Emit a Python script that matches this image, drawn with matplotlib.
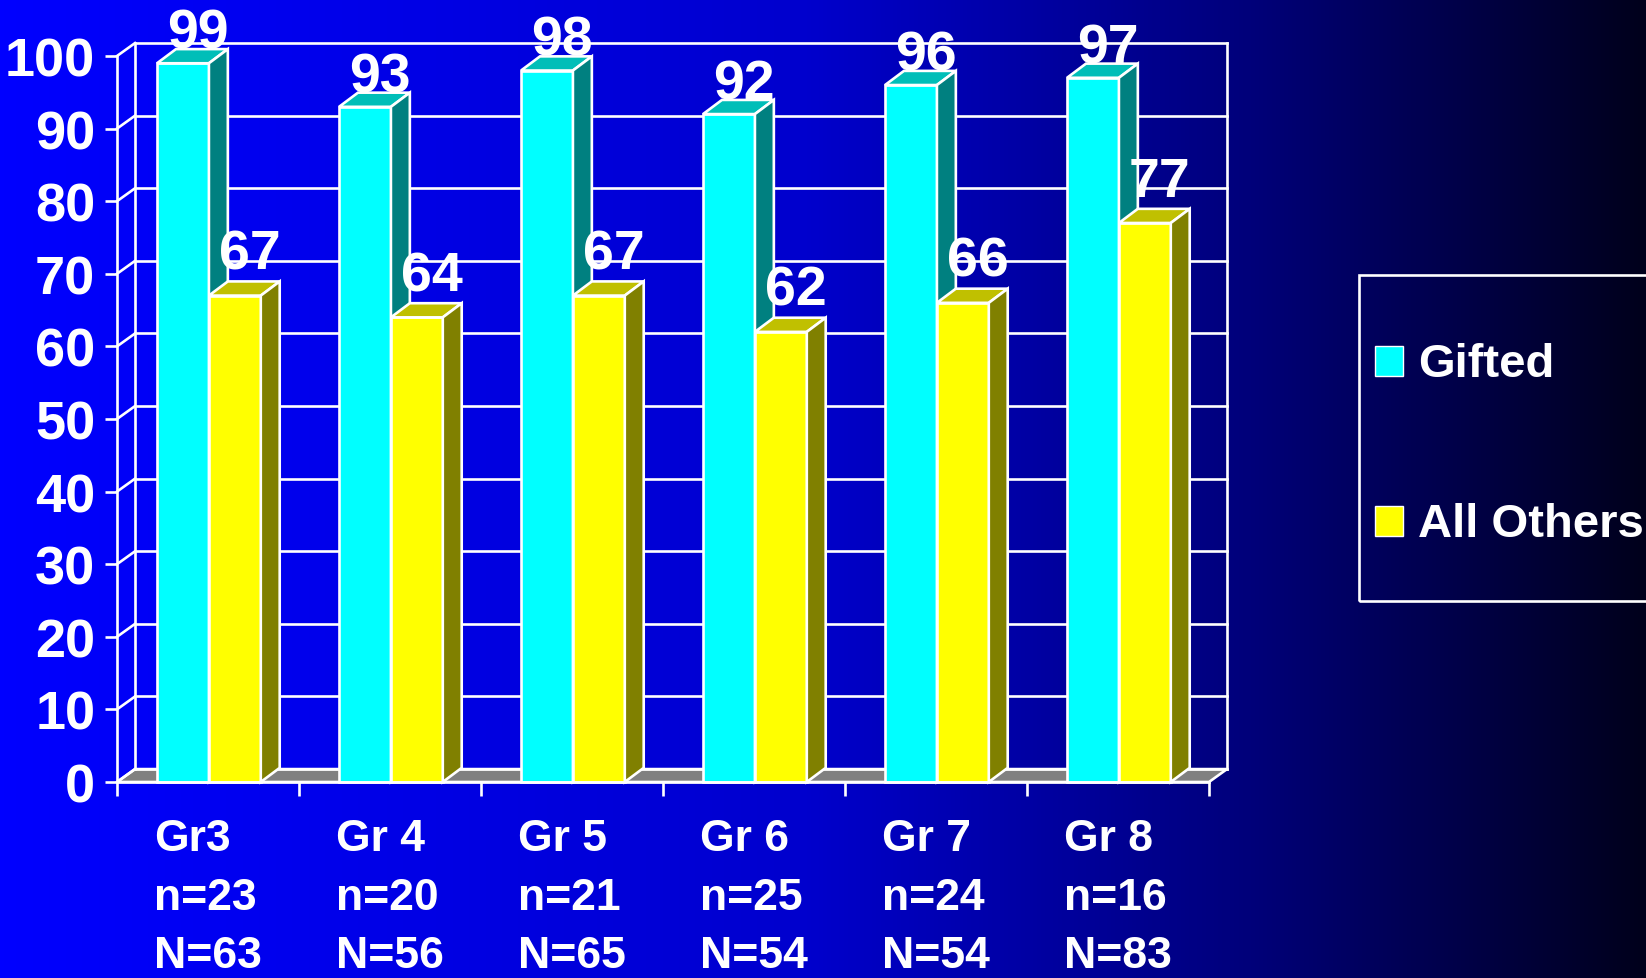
import numpy as np
import matplotlib
matplotlib.use('Agg')
import matplotlib.pyplot as plt
from matplotlib.patches import Polygon, Rectangle

plt.rcParams['font.family'] = ['Liberation Sans', 'DejaVu Sans']
plt.rcParams['font.weight'] = 'bold'

# data
grades = ['Gr3', 'Gr 4', 'Gr 5', 'Gr 6', 'Gr 7', 'Gr 8']
n_gifted = [23, 20, 21, 25, 24, 16]
n_others = [63, 56, 65, 54, 54, 83]
series = ['Gifted', 'All Others']
gifted = [99, 93, 98, 92, 96, 97]
others = [67, 64, 67, 62, 66, 77]

# colours: front, top, side
cols = {
    'Gifted': ('#00FFFF', '#00BEB8', '#008080'),
    'All Others': ('#FFFF00', '#C0C000', '#808000'),
}

W, H = 1646, 979
fig = plt.figure(figsize=(W / 100, H / 100), dpi=100)

# background gradient blue -> black
bg = fig.add_axes([0, 0, 1, 1], zorder=-10)
xs = np.linspace(0, 1, 400)
blue = np.interp(xs, [0, 0.49, 0.76, 1.0], [255, 205, 122, 28]) / 255
grad = np.zeros((2, len(xs), 3))
grad[:, :, 2] = blue
bg.imshow(grad, aspect='auto', extent=[0, 1, 0, 1])
bg.axis('off')

ax = fig.add_axes([117 / W, (H - 783) / H, 1092 / W, 726 / H])
ax.set_facecolor('none')
ax.set_xlim(0, 6)
ax.set_ylim(0, 100)

lw = 1.9
# wall / floor depth offsets (data units)
wdx, wdy = 0.099, 1.78
# bar depth offsets
bdx, bdy = 0.104, 1.95

# floor
ax.add_patch(Polygon([(0, 0), (6, 0), (6 + wdx, wdy), (wdx, wdy)], closed=True,
                     facecolor='#808080', edgecolor='white', lw=lw, clip_on=False, zorder=1))
# back wall gridlines and left side diagonals
for v in range(0, 101, 10):
    ax.plot([wdx, 6 + wdx], [v + wdy, v + wdy], color='white', lw=lw, clip_on=False, zorder=1)
    ax.plot([0, wdx], [v, v + wdy], color='white', lw=lw, clip_on=False, zorder=1)
ax.plot([wdx, wdx], [wdy, 100 + wdy], color='white', lw=lw, clip_on=False, zorder=1)
ax.plot([6 + wdx, 6 + wdx], [wdy, 100 + wdy], color='white', lw=lw, clip_on=False, zorder=1)

x = np.arange(len(grades))
bw = 0.285
offsets = [0.22, 0.505]
lab_up = [0.2, 1.8]
z = 2
for i in range(len(grades)):
    for name, vals, off, up in zip(series, [gifted, others], offsets, lab_up):
        front, top, side = cols[name]
        x0 = i + off
        v = vals[i]
        ax.bar(x0, v, width=bw, align='edge', color=front, edgecolor='white',
               lw=lw, zorder=z, clip_on=False)
        ax.add_patch(Polygon([(x0, v), (x0 + bw, v), (x0 + bw + bdx, v + bdy), (x0 + bdx, v + bdy)],
                             closed=True, facecolor=top, edgecolor='white', lw=lw,
                             zorder=z, clip_on=False))
        ax.add_patch(Polygon([(x0 + bw, 0), (x0 + bw + bdx, bdy), (x0 + bw + bdx, v + bdy), (x0 + bw, v)],
                             closed=True, facecolor=side, edgecolor='white', lw=lw,
                             zorder=z, clip_on=False))
        ax.text(x0 + bw / 2 + bdx / 2 + 0.03, v + bdy + up, str(v), ha='center', va='baseline',
                color='white', fontsize=40, fontweight='bold', zorder=20, clip_on=False)
        z += 1

# axes
for s in ['top', 'right']:
    ax.spines[s].set_visible(False)
for s in ['left', 'bottom']:
    ax.spines[s].set_color('white')
    ax.spines[s].set_linewidth(lw)
    ax.spines[s].set_zorder(30)
ax.set_yticks(range(0, 101, 10))
ax.tick_params(axis='y', colors='white', labelsize=39, length=8.6, width=lw, pad=7, direction='out')
ax.set_xticks(range(0, 7))
ax.set_xticklabels([])
ax.tick_params(axis='x', which='major', colors='white', length=10, width=lw, direction='out')
ax.set_xticks(x + 0.5, minor=True)
labels = [g + '\nn=' + str(a) + '\nN=' + str(b) for g, a, b in zip(grades, n_gifted, n_others)]
ax.set_xticklabels(labels, minor=True)
ax.tick_params(axis='x', which='minor', length=0, colors='white', labelsize=32, pad=26)
for t in ax.get_xticklabels(minor=True):
    t.set_multialignment('left')
    t.set_linespacing(1.55)
for t in ax.get_yticklabels() + ax.get_xticklabels(minor=True):
    t.set_fontweight('bold')

# legend (hand drawn, box runs off the right edge)
fig.patches.append(Rectangle((1359 / W, (H - 601.7) / H), 0.3, (601.7 - 275.7) / H,
                             transform=fig.transFigure, fill=False, edgecolor='white', lw=lw))
leg_y = [377, 536.7]
for name, yb in zip(series, leg_y):
    fig.patches.append(Rectangle((1375 / W, (H - yb) / H), 28 / W, 30 / H,
                                 transform=fig.transFigure, facecolor=cols[name][0],
                                 edgecolor='white', lw=1))
    fig.text(1418 / W, (H - yb) / H, name, color='white', fontsize=34, fontweight='bold',
             ha='left', va='baseline')

fig.savefig('out.png', dpi=100)
